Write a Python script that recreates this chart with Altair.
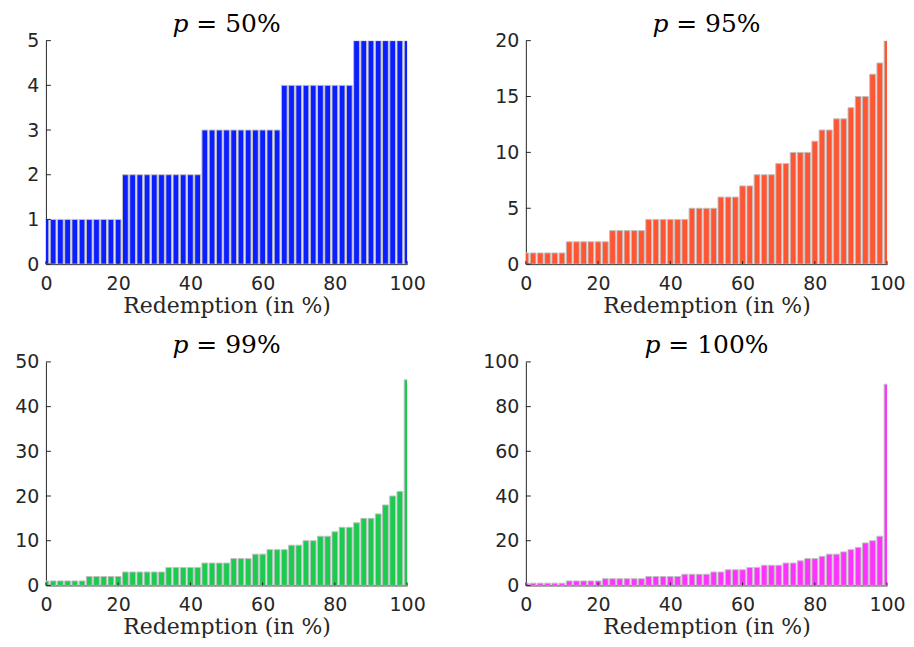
import altair as alt
import pandas as pd

# Redemption positions (in %)
x_vals = [0, 2, 4, 6, 8, 10, 12, 14, 16, 18, 20, 22, 24, 26, 28, 30, 32, 34, 36, 38,
          40, 42, 44, 46, 48, 50, 52, 54, 56, 58, 60, 62, 64, 66, 68, 70, 72, 74, 76, 78,
          80, 82, 84, 86, 88, 90, 92, 94, 96, 98, 100]

p50 = [1, 1, 1, 1, 1, 1, 1, 1, 1, 1, 1,
       2, 2, 2, 2, 2, 2, 2, 2, 2, 2, 2,
       3, 3, 3, 3, 3, 3, 3, 3, 3, 3, 3,
       4, 4, 4, 4, 4, 4, 4, 4, 4, 4,
       5, 5, 5, 5, 5, 5, 5, 5]

p95 = [1, 1, 1, 1, 1, 1, 2, 2, 2, 2, 2, 2, 3, 3, 3, 3, 3, 4, 4, 4, 4, 4, 4,
       5, 5, 5, 5, 6, 6, 6, 7, 7, 8, 8, 8, 9, 9, 10, 10, 10, 11, 12, 12, 13, 13,
       14, 15, 15, 17, 18, 20]

p99 = [1, 1, 1, 1, 1, 1, 2, 2, 2, 2, 2, 3, 3, 3, 3, 3, 3, 4, 4, 4, 4, 4,
       5, 5, 5, 5, 6, 6, 6, 7, 7, 8, 8, 8, 9, 9, 10, 10, 11, 11, 12, 13, 13,
       14, 15, 15, 16, 18, 20, 21, 46]

p100 = [1, 1, 1, 1, 1, 1, 2, 2, 2, 2, 2, 3, 3, 3, 3, 3, 3, 4, 4, 4, 4, 4,
        5, 5, 5, 5, 6, 6, 7, 7, 7, 8, 8, 9, 9, 9, 10, 10, 11, 12, 12, 13, 14, 14,
        15, 16, 17, 19, 20, 22, 90]

titles = ["𝑝 = 50%", "𝑝 = 95%", "𝑝 = 99%", "𝑝 = 100%"]
colors = ["#0A1EFF", "#FF5533", "#1ACB4F", "#FF33FF"]
y_max = [5, 20, 50, 100]
y_ticks = [[0, 1, 2, 3, 4, 5], [0, 5, 10, 15, 20], [0, 10, 20, 30, 40, 50],
           [0, 20, 40, 60, 80, 100]]
x_ticks = [0, 20, 40, 60, 80, 100]
x_label = "Redemption (in %)"

W, H = 362, 224
AXIS_COLOR = "#262626"


def panel(values, color, title, ymax, yticks):
    df = pd.DataFrame({"x": x_vals, "y": values})
    xscale = alt.Scale(domain=[0, 100], nice=False, zero=False, padding=0)
    yscale = alt.Scale(domain=[0, ymax], nice=False, padding=0)
    xaxis = alt.Axis(values=x_ticks, title=x_label, ticks=False,
                     labelFlush=False, labelPadding=10, titlePadding=2)
    yaxis = alt.Axis(values=yticks, title=None, ticks=False,
                     labelFlush=False, labelPadding=7)
    bars = alt.Chart(df).transform_calculate(
        x0="datum.x - 0.8", x1="datum.x + 0.8"
    ).mark_bar(fill=color, stroke="#C0C0C0", strokeWidth=1, clip=True).encode(
        x=alt.X("x0:Q", scale=xscale, axis=xaxis),
        x2="x1:Q",
        y=alt.Y("y:Q", scale=yscale, axis=yaxis),
        y2=alt.datum(0),
    )
    yt = alt.Chart(pd.DataFrame({"t": yticks})).mark_rule(
        color=AXIS_COLOR, strokeWidth=1
    ).encode(y=alt.Y("t:Q", scale=yscale, axis=yaxis),
             x=alt.value(0), x2=alt.value(5))
    xt = alt.Chart(pd.DataFrame({"t": x_ticks})).mark_rule(
        color=AXIS_COLOR, strokeWidth=1
    ).encode(x=alt.X("t:Q", scale=xscale, axis=xaxis),
             y=alt.value(H), y2=alt.value(H - 3))
    return alt.layer(bars, yt, xt).properties(
        width=W, height=H,
        title=alt.TitleParams(text=title, font="DejaVu Serif", fontSize=25,
                              fontWeight="normal", anchor="middle", offset=-5,
                              color="#000000"),
    )


panels = [panel(v, c, t, m, yt) for v, c, t, m, yt in
          zip([p50, p95, p99, p100], colors, titles, y_max, y_ticks)]

chart = alt.concat(
    *panels, columns=2, spacing=alt.RowColnumber(row=17, column=56)
).properties(
    padding={"left": 6, "top": 3, "right": 0, "bottom": 0}
).configure_view(stroke=None).configure_axis(
    grid=False, domainColor=AXIS_COLOR, domainWidth=1,
    labelFont="DejaVu Sans", labelFontSize=19, labelColor="#262626",
    titleFont="DejaVu Serif", titleFontSize=22, titleFontWeight="normal",
    titleColor="#262626",
)

chart.save("out.html", embed_options={"renderer": "svg", "actions": False})
